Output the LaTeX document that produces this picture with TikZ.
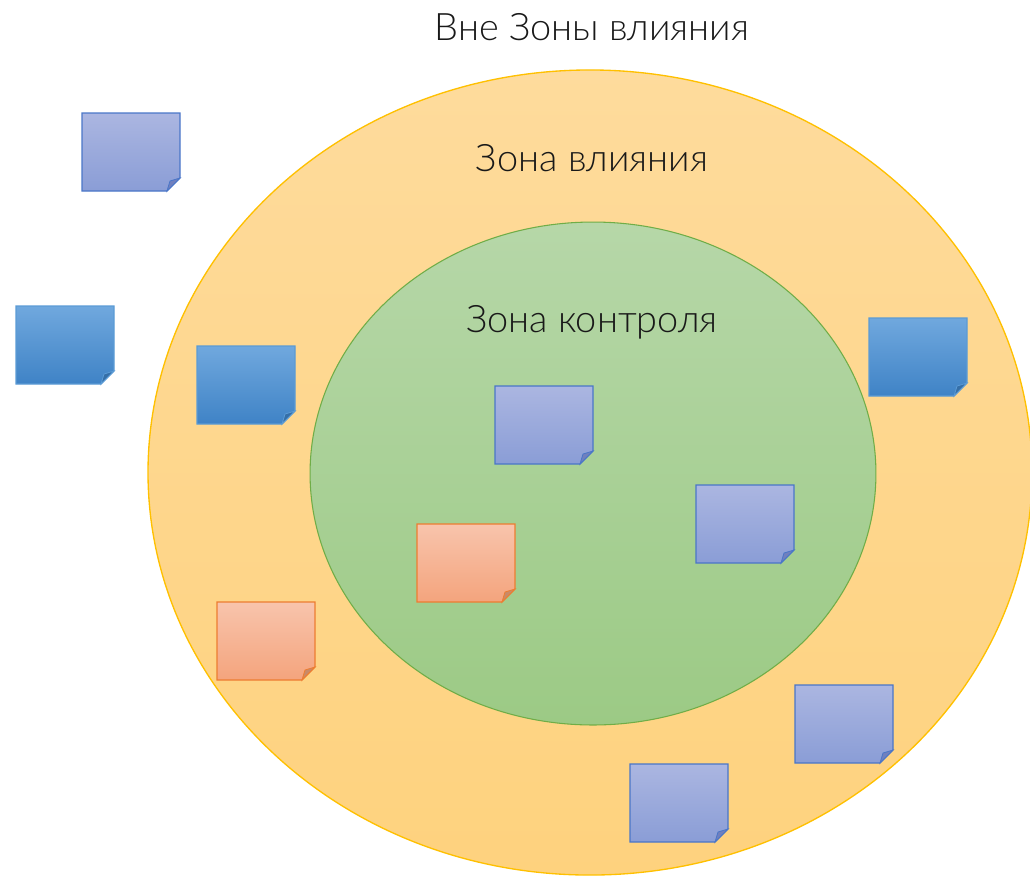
\documentclass[tikz,border=0pt]{standalone}
\usepackage{fontspec}
\setmainfont{Lato}[UprightFont=* Light]
\begin{document}
\begin{tikzpicture}[x=0.75pt,y=-0.75pt]
\definecolor{outerfillA}{HTML}{FEDB9C}
\definecolor{outerfillB}{HTML}{FED27E}
\definecolor{outerline}{HTML}{FFC000}
\definecolor{innerfillA}{HTML}{B6D7A8}
\definecolor{innerfillB}{HTML}{9CCA85}
\definecolor{innerline}{HTML}{70AD47}
\definecolor{purpA}{HTML}{ABB6E1}
\definecolor{purpB}{HTML}{8A9DD6}
\definecolor{purpL}{HTML}{4A76C8}
\definecolor{purpF}{HTML}{7080BE}
\definecolor{blueA}{HTML}{70A8DE}
\definecolor{blueB}{HTML}{3F83C6}
\definecolor{blueL}{HTML}{5B9BD5}
\definecolor{blueF}{HTML}{356FA8}
\definecolor{orA}{HTML}{F8C4AC}
\definecolor{orB}{HTML}{F4A47D}
\definecolor{orL}{HTML}{ED7D31}
\definecolor{orF}{HTML}{C98A68}
\tikzset{
  zonelabel/.style={font=\fontsize{28.4}{31}\selectfont, text=black!90, inner sep=0pt},
}
\newcommand\stickynote[4]{% x, y, colour prefix
  \shade[top color=#3A, bottom color=#3B, draw=#3L, line width=0.9pt]
    (#1,#2) -- ++(98,0) -- ++(0,65) -- ++(-13,13) -- ++(-85,0) -- cycle;
  \fill[#3F, draw=#3L, line width=0.6pt]
    (#1+85,#2+78) -- (#1+88,#2+68) -- (#1+98,#2+65) -- cycle;
}
\useasboundingbox (0,0) rectangle (1030,876);
\clip (0,0) rectangle (1030,876);
\shade[top color=outerfillA, bottom color=outerfillB, draw=outerline, line width=1pt]
  (590,472.5) ellipse [x radius=331.5pt, y radius=301.9pt];
\shade[top color=innerfillA, bottom color=innerfillB, draw=innerline, line width=0.8pt]
  (593,473.5) ellipse [x radius=212.2pt, y radius=188.6pt];
\node[zonelabel] (outside) at (592,27) {Вне Зоны влияния};
\node[zonelabel] (influence) at (592,158) {Зона влияния};
\node[zonelabel] (control) at (592,322) {Зона контроля};
\stickynote{82}{113}{purp}{}
\stickynote{16}{306}{blue}{}
\stickynote{197}{346}{blue}{}
\stickynote{869}{318}{blue}{}
\stickynote{495}{386}{purp}{}
\stickynote{696}{485}{purp}{}
\stickynote{417}{524}{or}{}
\stickynote{217}{602}{or}{}
\stickynote{795}{685}{purp}{}
\stickynote{630}{764}{purp}{}
\end{tikzpicture}
\end{document}
